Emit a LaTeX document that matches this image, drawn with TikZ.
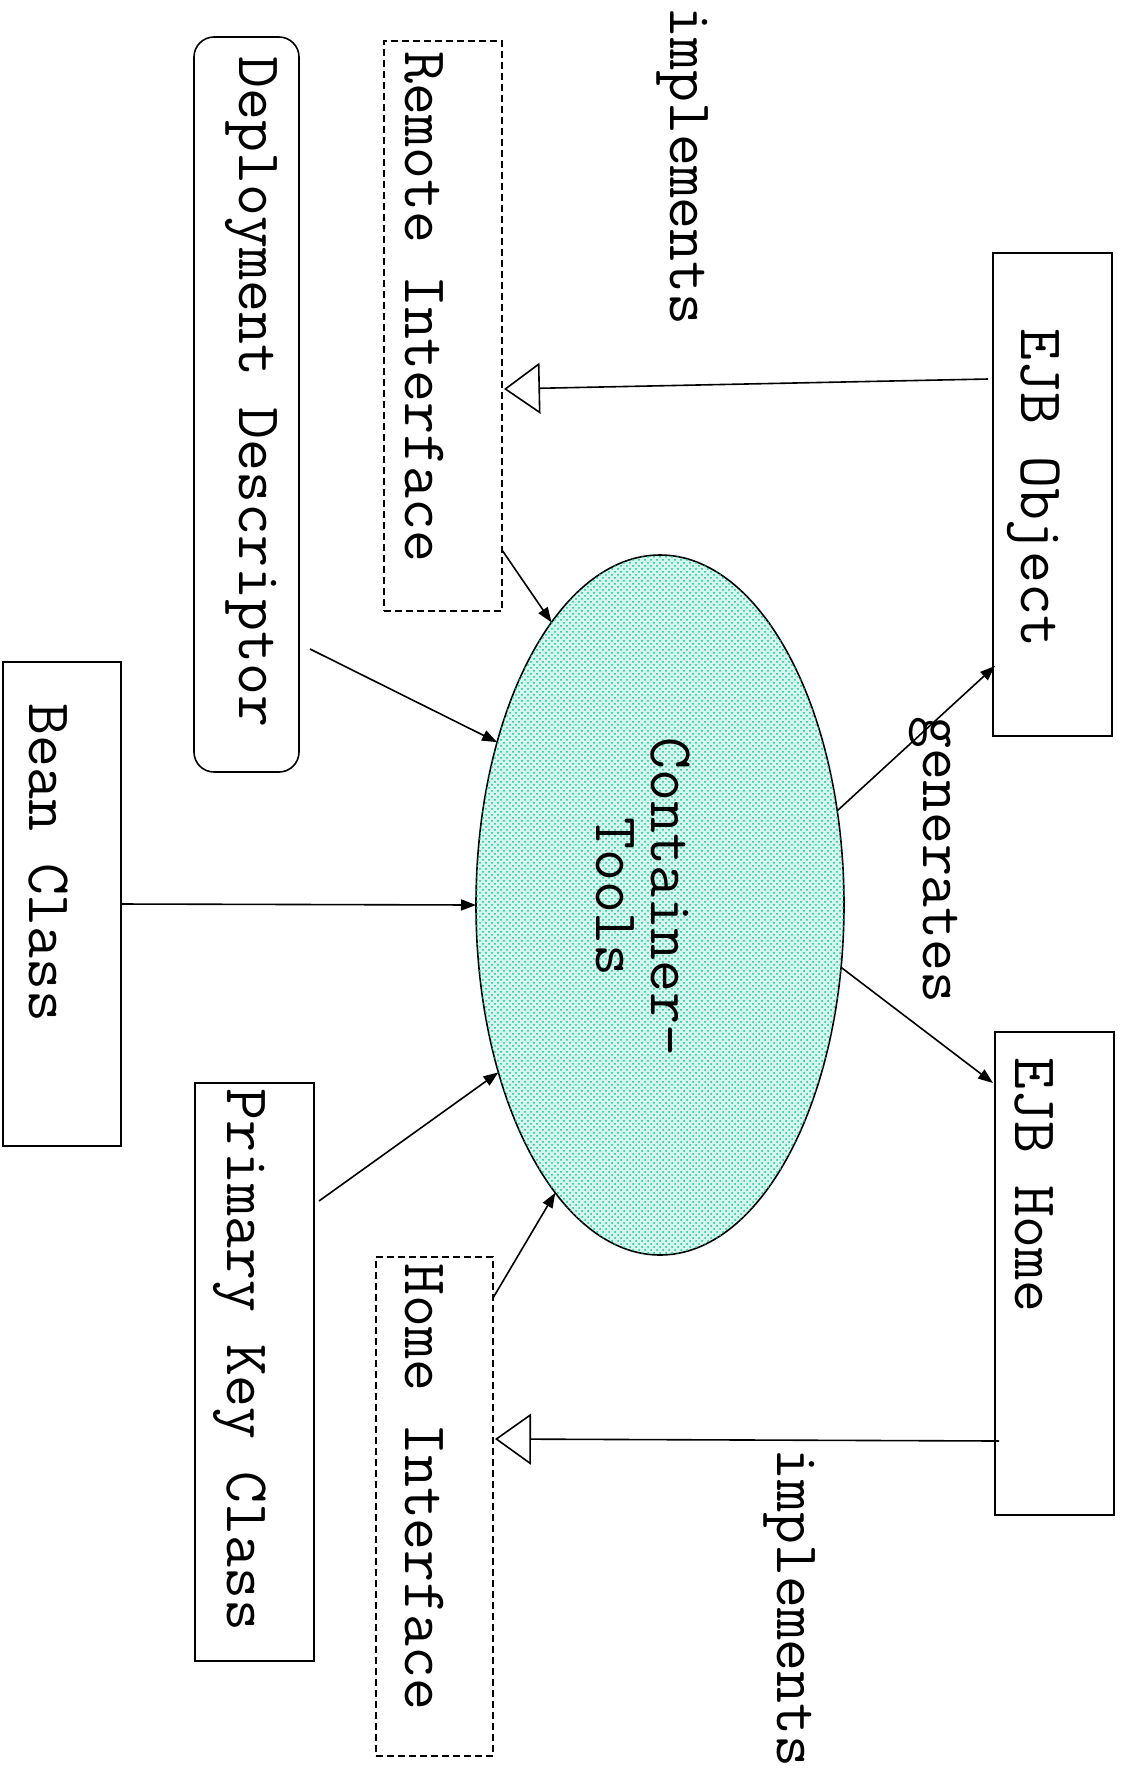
\documentclass[tikz,border=0pt]{standalone}
\usetikzlibrary{shapes.geometric,arrows.meta,patterns}
\definecolor{dotcol}{RGB}{0,200,150}
\definecolor{lightfill}{RGB}{215,245,236}
\begin{document}
\begin{tikzpicture}[x=0.5pt,y=-0.5pt,
  box/.style={draw,line width=0.8pt,inner sep=0pt,outer sep=0pt},
  dbox/.style={box,dash pattern=on 3.5pt off 2pt},
  lbl/.style={rotate=-90,inner sep=0pt,font=\ttfamily\fontsize{31}{27.5}\selectfont},
  con/.style={line width=0.8pt,-{Triangle[length=7.5pt,width=5.5pt]}},
  impl/.style={line width=0.8pt,-{Triangle[open,length=18pt,width=25.5pt,line width=0.8pt]}}]
\useasboundingbox (0,0) rectangle (1123,1769);
% container ellipse
\node[ellipse,draw,line width=0.8pt,inner sep=0pt,outer sep=0pt,minimum width=184pt,minimum height=350pt,
  fill=lightfill,postaction={pattern=crosshatch dots,pattern color=dotcol}] (cont) at (660,905) {};
\node[lbl,align=center] (conttxt) at (643,897) {Container-\\Tools};
% boxes
\node[box,minimum width=59.5pt,minimum height=241.5pt] (ejbobj) at (1052.5,494.5) {};
\node[lbl] (ejbobjtxt) at (1034,488) {EJB Object};
\node[box,minimum width=59.5pt,minimum height=241.5pt] (ejbhome) at (1054.5,1273.5) {};
\node[lbl] (ejbhometxt) at (1034,1185) {EJB Home};
\node[dbox,line width=1pt,minimum width=59pt,minimum height=285pt] (remote) at (443,326) {};
\node[lbl] (remotetxt) at (424,307) {Remote Interface};
\node[box,rounded corners=10pt,minimum width=52.5pt,minimum height=367.5pt] (deploy) at (246.5,404.5) {};
\node[lbl] (deploytxt) at (251,392) {Deployment Descriptor};
\node[box,minimum width=59pt,minimum height=242pt] (bean) at (62,904) {};
\node[lbl] (beantxt) at (48,863) {Bean Class};
\node[box,minimum width=59.5pt,minimum height=289pt] (pk) at (254.5,1372) {};
\node[lbl] (pktxt) at (240,1360) {Primary Key Class};
\node[dbox,minimum width=58.5pt,minimum height=249.5pt] (home) at (434.5,1506.5) {};
\node[lbl] (hometxt) at (424,1487) {Home Interface};
% connector labels
\node[lbl] (impl1) at (683,166) {implements};
\node[lbl] (impl2) at (790,1608) {implements};
\node[lbl] (gen) at (934,860) {generates};
% connectors
\draw[impl] ([shift={(-5,-115.5)}]ejbobj.west) -- ([shift={(2,63)}]remote.east);
\draw[impl] ([shift={(4,167.5)}]ejbhome.west) -- ([shift={(2,182)}]home.north east);
\draw[con] ([shift={(0,-61)}]remote.south east) -- (cont.111.8);
\draw[con] ([shift={(11,244.5)}]deploy.east) -- (cont.135.7);
\draw[con] (bean.east) -- (cont.west);
\draw[con] ([shift={(5,-171)}]pk.east) -- (cont.226.5);
\draw[con] ([shift={(0,41)}]home.north east) -- (cont.250.9);
\draw[con] (cont.28.5) -- ([shift={(2,-70)}]ejbobj.south west);
\draw[con] (cont.-19.8) -- ([shift={(-2,51)}]ejbhome.north west);
\end{tikzpicture}
\end{document}
